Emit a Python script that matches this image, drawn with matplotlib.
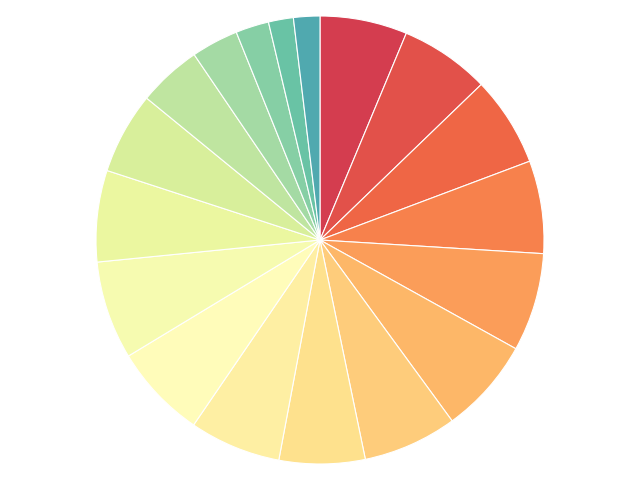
import numpy as np
import matplotlib
matplotlib.use("Agg")
import matplotlib.pyplot as plt

# slice shares in percent, clockwise from 12 o'clock
shares = [6.3, 6.5, 6.5, 6.7, 7.1, 6.9, 6.8, 6.2, 6.6,
          6.8, 7.1, 6.6, 5.9, 4.6, 3.4, 2.4, 1.8, 1.9]

def main():
    fig = plt.figure(figsize=(6.4, 4.8), dpi=100)
    ax = fig.add_axes([0, 0, 1, 1])
    colors = plt.cm.Spectral(np.linspace(0.1, 0.84, len(shares)))
    ax.pie(shares, colors=colors, startangle=90, counterclock=False,
           wedgeprops=dict(edgecolor="white", linewidth=0.8))
    ax.set_aspect("equal", adjustable="datalim")
    lim = 240 / 224
    ax.set_ylim(-lim, lim)
    ax.set_xlim(-lim * 640 / 480, lim * 640 / 480)
    ax.axis("off")
    fig.savefig("out.png", dpi=100)

if __name__ == "__main__":
    main()
